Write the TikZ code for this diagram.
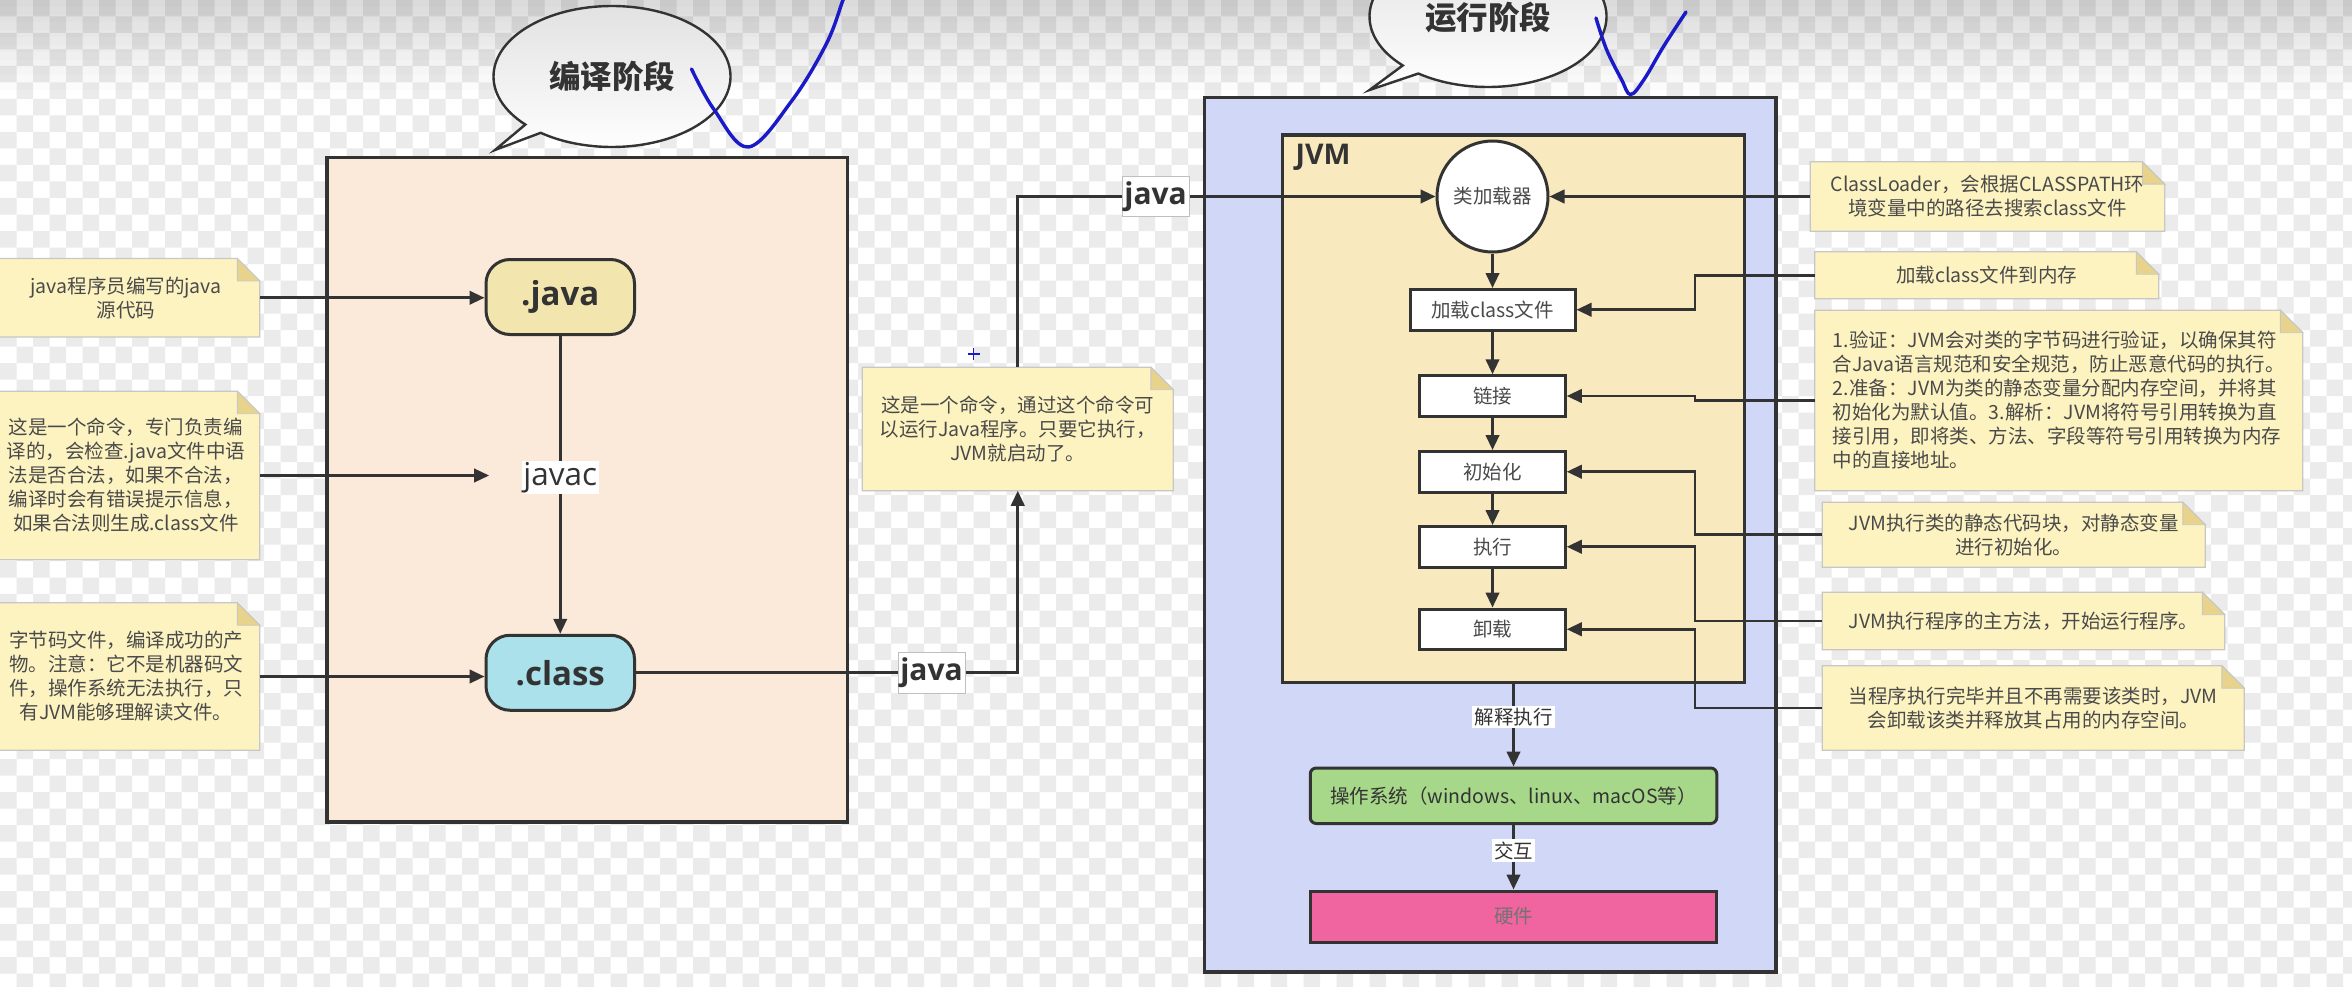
\documentclass[tikz,border=0pt]{standalone}
\usepackage{fontspec}
\setmainfont{Noto Sans CJK SC}
\newfontfamily\osans{Open Sans}
\usetikzlibrary{arrows.meta,calc}
\definecolor{linec}{HTML}{333333}
\definecolor{txt}{HTML}{333333}
\definecolor{notetxt}{HTML}{4A4A4A}
\definecolor{peach}{HTML}{FBE9D9}
\definecolor{javafill}{HTML}{F3E5AE}
\definecolor{classfill}{HTML}{ABE1EA}
\definecolor{lav}{HTML}{D1D8F7}
\definecolor{jvmfill}{HTML}{F8EABE}
\definecolor{osfill}{HTML}{A7D88A}
\definecolor{hwfill}{HTML}{F064A0}
\definecolor{notefill}{HTML}{FDF3C1}
\definecolor{foldfill}{HTML}{E7D38C}
\definecolor{penblue}{HTML}{1A1AC8}
\pgfdeclarelayer{bglayer}
\pgfdeclarelayer{notelayer}
\pgfsetlayers{bglayer,notelayer,main}
\tikzset{
 conn/.style={draw=linec, line width=1.7pt, -{Triangle[length=10pt,width=9pt]}},
 bigbox/.style={draw=linec, line width=2.4pt, inner sep=0pt},
 pill/.style={draw=linec, line width=2pt, rounded corners=16pt, minimum width=99pt, minimum height=50pt, text=txt, font=\osans\bfseries\fontsize{22}{22}\selectfont, inner sep=0pt},
 procbox/.style={draw=linec, line width=2pt, fill=white, minimum width=97pt, minimum height=27pt, inner sep=0pt, text=notetxt, font=\fontsize{13}{13}\selectfont},
 notenode/.style={inner sep=0pt, align=center, text=notetxt, font=\fontsize{13}{16}\selectfont},
 notebody/.style={fill=notefill, draw=black!22, line width=0.8pt},
 notefold/.style={fill=foldfill, draw=black!22, line width=0.6pt},
 javalbl/.style={fill=white, draw=black!25, line width=0.6pt, inner xsep=1.5pt, inner ysep=3.5pt, text=txt, font=\osans\bfseries\fontsize{20}{20}\selectfont},
 smalllbl/.style={fill=white, inner sep=1.5pt, text=txt, font=\fontsize{13}{13}\selectfont},
 bubbleshape/.style={top color=black!12, bottom color=white, draw=linec, line width=1.6pt},
 bubtxt/.style={text=txt, font=\bfseries\fontsize{21}{21}\selectfont},
 penline/.style={draw=penblue, line width=2.3pt, line cap=round, line join=round},
}
\newcommand\drawnote[1]{%
 \begin{pgfonlayer}{notelayer}
 \path[notebody] (#1.south west) -- (#1.north west) -- ([xshift=-15pt]#1.north east) -- ([yshift=-15pt]#1.north east) -- (#1.south east) -- cycle;
 \path[notefold] ([xshift=-15pt]#1.north east) -- ([xshift=-15pt,yshift=-15pt]#1.north east) -- ([yshift=-15pt]#1.north east) -- cycle;
 \end{pgfonlayer}}
\begin{document}
\begin{tikzpicture}[x=1pt,y=-1pt]
\useasboundingbox (0,0) rectangle (1568,658);
\clip (0,0) rectangle (1568,658);
% background checkerboard
\begin{pgfonlayer}{bglayer}
\fill[white] (0,0) rectangle (1568,658);
\foreach \j in {0,...,59}{
  \pgfmathtruncatemacro\chkoff{mod(\j,2)*11}
  \fill[black!8] \foreach \i in {0,...,71}{(\chkoff+\i*22,\j*11) rectangle ++(11,11)};
}
\foreach \k in {0,...,11}{
  \pgfmathsetmacro\chkop{0.14*(1-\k/12)}
  \fill[black, opacity=\chkop] (0,\k*5) rectangle (1568,\k*5+5);
}
\end{pgfonlayer}

% big boxes
\node[bigbox, fill=peach, minimum width=347pt, minimum height=443pt] (compile) at (391.5,326.5) {};
\node[bigbox, fill=lav, minimum width=381pt, minimum height=583pt] (runbox) at (993.5,356.5) {};
\node[bigbox, fill=jvmfill, minimum width=308pt, minimum height=365pt] (jvm) at (1009,272.5) {};
\node[text=txt, font=\osans\bfseries\fontsize{19}{19}\selectfont] (jvmtitle) at (882,105) {JVM};

% speech bubbles
\coordinate (lbc) at (408,51);
\coordinate (lbt) at (330,100);
\path[bubbleshape] ($(lbc)+(233:79pt and 47pt)$) -- (lbt) -- ($(lbc)+(223:79pt and 47pt)$) arc[start angle=223, end angle=-127, x radius=79pt, y radius=47pt] -- cycle;
\node[bubtxt] (lbubble) at (408,51) {编译阶段};
\coordinate (rbc) at (992,11);
\coordinate (rbt) at (913,60);
\path[bubbleshape] ($(rbc)+(234:79pt and 47pt)$) -- (rbt) -- ($(rbc)+(224:79pt and 47pt)$) arc[start angle=224, end angle=-126, x radius=79pt, y radius=47pt] -- cycle;
\node[bubtxt] (rbubble) at (992,12) {运行阶段};

% blue pen strokes
\draw[penline] plot[smooth, tension=0.6] coordinates {(461,46) (476,73) (499,98) (528,67) (551,29) (562,0) (566,-10)};
\draw[penline] plot[smooth, tension=0.6] coordinates {(1064,12) (1071,33) (1081,53) (1087,63) (1096,53) (1109,31) (1124,8)};
\draw[draw=penblue, line width=1pt] (645,236) -- (653,236) (649,232) -- (649,240);

% compile stage
\node[pill, fill=javafill] (java) at (373.5,198) {.java};
\node[pill, fill=classfill] (class) at (373.5,448.5) {.class};
\draw[conn] (java) -- node[pos=0.475, fill=white, inner sep=1pt, text=txt, font=\osans\fontsize{21}{21}\selectfont] (javac) {javac} (class);

% left notes
\node[notenode, minimum width=178pt, minimum height=52pt] (n1) at (84,198.5) {java程序员编写的java\\源代码};
\node[notenode, minimum width=178pt, minimum height=112pt] (n2) at (84,317) {这是一个命令，专门负责编\\译的，会检查.java文件中语\\法是否合法，如果不合法，\\编译时会有错误提示信息，\\如果合法则生成.class文件};
\node[notenode, minimum width=178pt, minimum height=98pt] (n3) at (84,451) {字节码文件，编译成功的产\\物。注意：它不是机器码文\\件，操作系统无法执行，只\\有JVM能够理解读文件。};
\node[notenode, minimum width=207pt, minimum height=82pt] (n4) at (678.5,286) {这是一个命令，通过这个命令可\\以运行Java程序。只要它执行，\\JVM就启动了。};
\drawnote{n1}\drawnote{n2}\drawnote{n3}\drawnote{n4}

\draw[conn] (n1.east) -- (n1.east -| java.west);
\draw[conn, shorten >=21pt] (n2.east) -- (n2.east -| javac.west);
\draw[conn] (n3.east) -- (n3.east -| class.west);

% JVM internals
\node[circle, draw=linec, line width=2pt, fill=white, minimum size=74pt, inner sep=0pt, text=notetxt, font=\fontsize{13}{13}\selectfont] (loader) at (995,131) {类加载器};
\node[procbox, minimum width=110pt] (load) at (995,206.5) {加载class文件};
\node[procbox] (link) at (995,264) {链接};
\node[procbox] (init) at (995,314.5) {初始化};
\node[procbox] (exec) at (995,364.5) {执行};
\node[procbox] (unload) at (995,419.5) {卸载};
\draw[conn] (loader) -- (load);
\draw[conn] (load) -- (link);
\draw[conn] (link) -- (init);
\draw[conn] (init) -- (exec);
\draw[conn] (exec) -- (unload);

% java command connectors
\draw[conn] (class.east) -| node[pos=0.387, javalbl] (lbl1) {java} (n4.south);
\draw[conn] (n4.north) |- node[pos=0.665, javalbl] (lbl2) {java} (loader.west);

% OS and hardware
\node[draw=linec, line width=2pt, rounded corners=4pt, fill=osfill, minimum width=271pt, minimum height=37pt, inner sep=0pt, text=txt, font=\fontsize{13}{13}\selectfont] (os) at (1009,530.5) {操作系统（windows、linux、macOS等）};
\node[draw=linec, line width=2pt, fill=hwfill, minimum width=271pt, minimum height=34pt, inner sep=0pt, text=black!55, font=\fontsize{13}{13}\selectfont] (hw) at (1009,611) {硬件};
\draw[conn] (jvm.south) -- node[pos=0.4, smalllbl] (l3) {解释执行} (os.north);
\draw[conn] (os.south) -- node[pos=0.4, smalllbl] (l4) {交互} (hw.north);

% right notes
\node[notenode, minimum width=236pt, minimum height=46pt] (m1) at (1325,131) {ClassLoader，会根据CLASSPATH环\\境变量中的路径去搜索class文件};
\node[notenode, minimum width=229pt, minimum height=31pt] (m2) at (1324.5,183.5) {加载class文件到内存};
\node[notenode, align=left, minimum width=325pt, minimum height=120pt] (m3) at (1372.5,267) {1.验证：JVM会对类的字节码进行验证，以确保其符\\合Java语言规范和安全规范，防止恶意代码的执行。\\2.准备：JVM为类的静态变量分配内存空间，并将其\\初始化为默认值。3.解析：JVM将符号引用转换为直\\接引用，即将类、方法、字段等符号引用转换为内存\\中的直接地址。};
\node[notenode, minimum width=255pt, minimum height=43pt] (m4) at (1342.5,356.5) {JVM执行类的静态代码块，对静态变量\\进行初始化。};
\node[notenode, minimum width=268pt, minimum height=38pt] (m5) at (1349,414) {JVM执行程序的主方法，开始运行程序。};
\node[notenode, minimum width=281pt, minimum height=56pt] (m6) at (1355.5,472) {当程序执行完毕并且不再需要该类时，JVM\\会卸载该类并释放其占用的内存空间。};
\drawnote{m1}\drawnote{m2}\drawnote{m3}\drawnote{m4}\drawnote{m5}\drawnote{m6}

\coordinate (bus) at (1130,0);
\draw[conn] (m1.west) -- (loader.east);
\draw[conn] (m2.west) -- (m2.west -| bus) |- (load.east);
\draw[conn] (m3.west) -- (m3.west -| bus) |- (link.east);
\draw[conn] (m4.west) -- (m4.west -| bus) |- (init.east);
\draw[conn] (m5.west) -- (m5.west -| bus) |- (exec.east);
\draw[conn] (m6.west) -- (m6.west -| bus) |- (unload.east);
\end{tikzpicture}
\end{document}
